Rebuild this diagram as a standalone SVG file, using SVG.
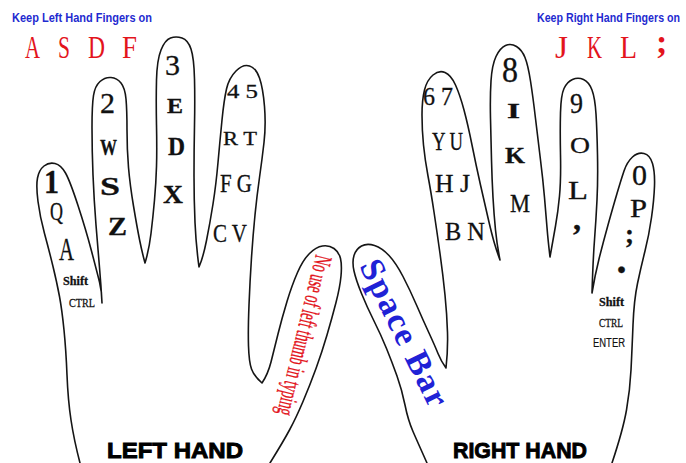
<svg xmlns="http://www.w3.org/2000/svg" width="686" height="463" viewBox="0 0 686 463">
<style>
.o{fill:none;stroke:#151515;stroke-width:1.6;stroke-linejoin:round;stroke-linecap:round}
.k{font-family:"Liberation Serif","Times New Roman",serif;fill:#111;stroke:#111;stroke-width:0.3}
.b{font-weight:bold}
.r{font-family:"Liberation Serif","Times New Roman",serif;fill:#e3141c}
.h{font-family:"Liberation Sans",Arial,sans-serif;font-weight:bold;fill:#1f2bd0;font-size:13px}
.t{font-family:"Liberation Sans",Arial,sans-serif;font-weight:900;fill:#000;stroke:#000;stroke-width:0.9;font-size:22px}
</style>
<rect width="686" height="463" fill="#fff"/>
<g id="headers">
<text class="h" x="12" y="22" textLength="140" lengthAdjust="spacingAndGlyphs">Keep Left Hand Fingers on</text>
<text class="h" x="537" y="22" textLength="143" lengthAdjust="spacingAndGlyphs">Keep Right Hand Fingers on</text>
<g class="r" font-size="32">
<text x="25" y="58" textLength="15" lengthAdjust="spacingAndGlyphs">A</text>
<text x="58" y="58" textLength="12" lengthAdjust="spacingAndGlyphs">S</text>
<text x="88" y="58" textLength="17" lengthAdjust="spacingAndGlyphs">D</text>
<text x="122" y="58" textLength="15" lengthAdjust="spacingAndGlyphs">F</text>
<text x="555" y="58" textLength="13" lengthAdjust="spacingAndGlyphs">J</text>
<text x="587" y="58" textLength="15" lengthAdjust="spacingAndGlyphs">K</text>
<text x="620" y="58" textLength="17" lengthAdjust="spacingAndGlyphs">L</text>
<text x="656" y="53" font-size="34" font-weight="bold">;</text>
</g>
</g>
<g id="left-hand">
<path class="o" d="M80,463 Q74,440 71,420 Q68,400 67,375 Q66,350 64,330 Q62,310 59.5,296.5 Q57,283 53,266.5 Q49,250 44.5,233.5 Q40,217 38,201.5 Q36,186 37.5,178 Q39,170 44,166 Q49,162 55,163.5 Q61,165 65.5,173 Q70,181 78,205.5 Q86,230 91.5,251 Q97,272 99.5,282 Q102,292 102,303
Q101,285 99.5,267.5 Q98,250 96,225 Q94,200 93,175 Q92,150 92,127.5 Q92,105 93.5,95.5 Q95,86 100,81.5 Q105,77 111,77.5 Q117,78 121,83 Q125,88 126,99 Q127,110 127,130 Q127,150 128.5,167.5 Q130,185 133.5,206 Q137,227 139.5,239.5 Q142,252 145,263
Q149,250 151,233.5 Q153,217 154.5,200 Q156,183 156.5,166.5 Q157,150 156.5,125 Q156,100 156.5,80 Q157,60 161,50 Q165,40 170.5,38 Q176,36 182,38 Q188,40 191,49 Q194,58 194.5,79 Q195,100 194.5,125 Q194,150 194,175 Q194,200 195,222.5 Q196,245 199,267
Q203,258 206.5,240.5 Q210,223 213,204 Q216,185 218,162.5 Q220,140 222,120 Q224,100 226.5,89 Q229,78 236,71 Q243,64 249.5,66 Q256,68 259.5,78 Q263,88 264.5,106.5 Q266,125 264,142.5 Q262,160 259.5,177.5 Q257,195 255,215 Q253,235 251.5,257.5 Q250,280 249,305 Q248,330 248.5,346 Q249,362 251.5,369 Q254,376 262,383
Q268,374 271,362 Q274,350 278,334 Q282,318 287,301.5 Q292,285 297.5,272.5 Q303,260 309.5,253.5 Q316,247 322.5,246 Q329,245 334,248.5 Q339,252 340.5,258.5 Q342,265 341,276 Q340,287 336,302.5 Q332,318 327,335 Q322,352 316,368.5 Q310,385 303,401.5 Q296,418 289.5,430 Q283,442 270,463"/>
<g class="k">
<text class="b" x="44" y="193" font-size="33" textLength="15" lengthAdjust="spacingAndGlyphs">1</text>
<text x="50" y="220" font-size="25" textLength="13" lengthAdjust="spacingAndGlyphs">Q</text>
<text x="59" y="260" font-size="32" textLength="15" lengthAdjust="spacingAndGlyphs">A</text>
<text class="b" x="63" y="285" font-size="13" textLength="25" lengthAdjust="spacingAndGlyphs">Shift</text>
<text x="69" y="307" font-size="13" textLength="26" lengthAdjust="spacingAndGlyphs">CTRL</text>
<text x="100" y="113" font-size="29" textLength="15" lengthAdjust="spacingAndGlyphs">2</text>
<text class="b" x="100" y="155" font-size="24" textLength="17" lengthAdjust="spacingAndGlyphs">W</text>
<text class="b" x="100" y="195" font-size="25" textLength="20" lengthAdjust="spacingAndGlyphs">S</text>
<text class="b" x="108" y="235" font-size="26" textLength="19" lengthAdjust="spacingAndGlyphs">Z</text>
<text x="165" y="75" font-size="30" textLength="15" lengthAdjust="spacingAndGlyphs">3</text>
<text class="b" x="167" y="113" font-size="22" textLength="16" lengthAdjust="spacingAndGlyphs">E</text>
<text class="b" x="168" y="155" font-size="25" textLength="17" lengthAdjust="spacingAndGlyphs">D</text>
<text class="b" x="163" y="203" font-size="26" textLength="20" lengthAdjust="spacingAndGlyphs">X</text>
<text x="227" y="98" font-size="19" textLength="31" lengthAdjust="spacingAndGlyphs">4 5</text>
<text x="223" y="145" font-size="19" textLength="34" lengthAdjust="spacingAndGlyphs">R T</text>
<text x="220" y="192" font-size="25" textLength="32" lengthAdjust="spacingAndGlyphs">F G</text>
<text x="213" y="242" font-size="25" textLength="34" lengthAdjust="spacingAndGlyphs">C V</text>
</g>
<text class="r" transform="translate(316,254) rotate(103.7)" font-size="25" stroke="#e3141c" stroke-width="0.35" textLength="164" lengthAdjust="spacingAndGlyphs">No use of left thumb in typing</text>
<text class="t" x="107" y="458" textLength="136" lengthAdjust="spacingAndGlyphs">LEFT HAND</text>
</g>
<g id="right-hand">
<path class="o" d="M427,463 Q418,443 413,431.5 Q408,420 405,405 Q402,390 397,376 Q392,362 386.5,348.5 Q381,335 374,321 Q367,307 361.5,293.5 Q356,280 354,271 Q352,262 354,255.5 Q356,249 361.5,246 Q367,243 374.5,245.5 Q382,248 389,255.5 Q396,263 403,276.5 Q410,290 416.5,305 Q423,320 429,333 Q435,346 438,353.5 Q441,361 446,368
Q448,350 447.5,332.5 Q447,315 445,295 Q443,275 440,253.5 Q437,232 434,212 Q431,192 428,176 Q425,160 423.5,145 Q422,130 422,115 Q422,100 424.5,90 Q427,80 433,75 Q439,70 445,72.5 Q451,75 455.5,85 Q460,95 464,110 Q468,125 472,145 Q476,165 480.5,185 Q485,205 488.5,220 Q492,235 494.5,243.5 Q497,252 500,260
Q497,245 495.5,230 Q494,215 493,197.5 Q492,180 491.5,160 Q491,140 490.5,118.5 Q490,97 491,81 Q492,65 496,56.5 Q500,48 505.5,45.5 Q511,43 516.5,46.5 Q522,50 525,57.5 Q528,65 530.5,81 Q533,97 535.5,118.5 Q538,140 540.5,160 Q543,180 544.5,197.5 Q546,215 547,227.5 Q548,240 550,257
Q553,240 555.5,226 Q558,212 559.5,196 Q561,180 560.5,155 Q560,130 560.5,112.5 Q561,95 564,88.5 Q567,82 572.5,79.5 Q578,77 583.5,79.5 Q589,82 592,90 Q595,98 596,114 Q597,130 597.5,155 Q598,180 597,200 Q596,220 594.5,240 Q593,260 592,293
Q595,275 599,259 Q603,243 608,225 Q613,207 617,193.5 Q621,180 624,171 Q627,162 632.5,157 Q638,152 644,153.5 Q650,155 652.5,163.5 Q655,172 654.5,186 Q654,200 651.5,217.5 Q649,235 645,251 Q641,267 637.5,283.5 Q634,300 633,325 Q632,350 631,370 Q630,390 626.5,410 Q623,430 612,463"/>
<g class="k">
<text x="423" y="105" font-size="26" textLength="30" lengthAdjust="spacingAndGlyphs">6 7</text>
<text x="432" y="150" font-size="25" textLength="31" lengthAdjust="spacingAndGlyphs">Y U</text>
<text x="435" y="192" font-size="25" textLength="35" lengthAdjust="spacingAndGlyphs">H J</text>
<text x="445" y="240" font-size="26" textLength="40" lengthAdjust="spacingAndGlyphs">B N</text>
<text x="502" y="82" font-size="35" textLength="16" lengthAdjust="spacingAndGlyphs">8</text>
<text class="b" x="507" y="118" font-size="22" textLength="13" lengthAdjust="spacingAndGlyphs">I</text>
<text class="b" x="505" y="163" font-size="24" textLength="20" lengthAdjust="spacingAndGlyphs">K</text>
<text x="510" y="212" font-size="25" textLength="20" lengthAdjust="spacingAndGlyphs">M</text>
<text x="570" y="113" font-size="29" textLength="13" lengthAdjust="spacingAndGlyphs">9</text>
<text x="570" y="153" font-size="24" textLength="20" lengthAdjust="spacingAndGlyphs">O</text>
<text x="568" y="199" font-size="25" textLength="20" lengthAdjust="spacingAndGlyphs">L</text>
<text class="b" x="573" y="230" font-size="32">,</text>
<text x="632" y="185" font-size="30" textLength="15" lengthAdjust="spacingAndGlyphs">0</text>
<text x="630" y="217" font-size="25" textLength="17" lengthAdjust="spacingAndGlyphs">P</text>
<text class="b" x="625" y="243" font-size="27">;</text>
<text class="b" x="616.5" y="273" font-size="40">.</text>
<text class="b" x="599" y="306" font-size="13" textLength="25" lengthAdjust="spacingAndGlyphs">Shift</text>
<text x="599" y="327" font-size="13" textLength="24" lengthAdjust="spacingAndGlyphs">CTRL</text>
</g>
<text x="593" y="347" font-family="Liberation Sans, Arial, sans-serif" font-size="12.5" fill="#111" stroke="#111" stroke-width="0.2" textLength="32" lengthAdjust="spacingAndGlyphs">ENTER</text>
<text transform="translate(359,266) rotate(63.7)" font-family="Liberation Serif, Times New Roman, serif" font-weight="bold" font-size="34" fill="#1f22d6" textLength="160" lengthAdjust="spacing">Space Bar</text>
<text class="t" x="453" y="458" textLength="134" lengthAdjust="spacingAndGlyphs">RIGHT HAND</text>
</g>
</svg>
